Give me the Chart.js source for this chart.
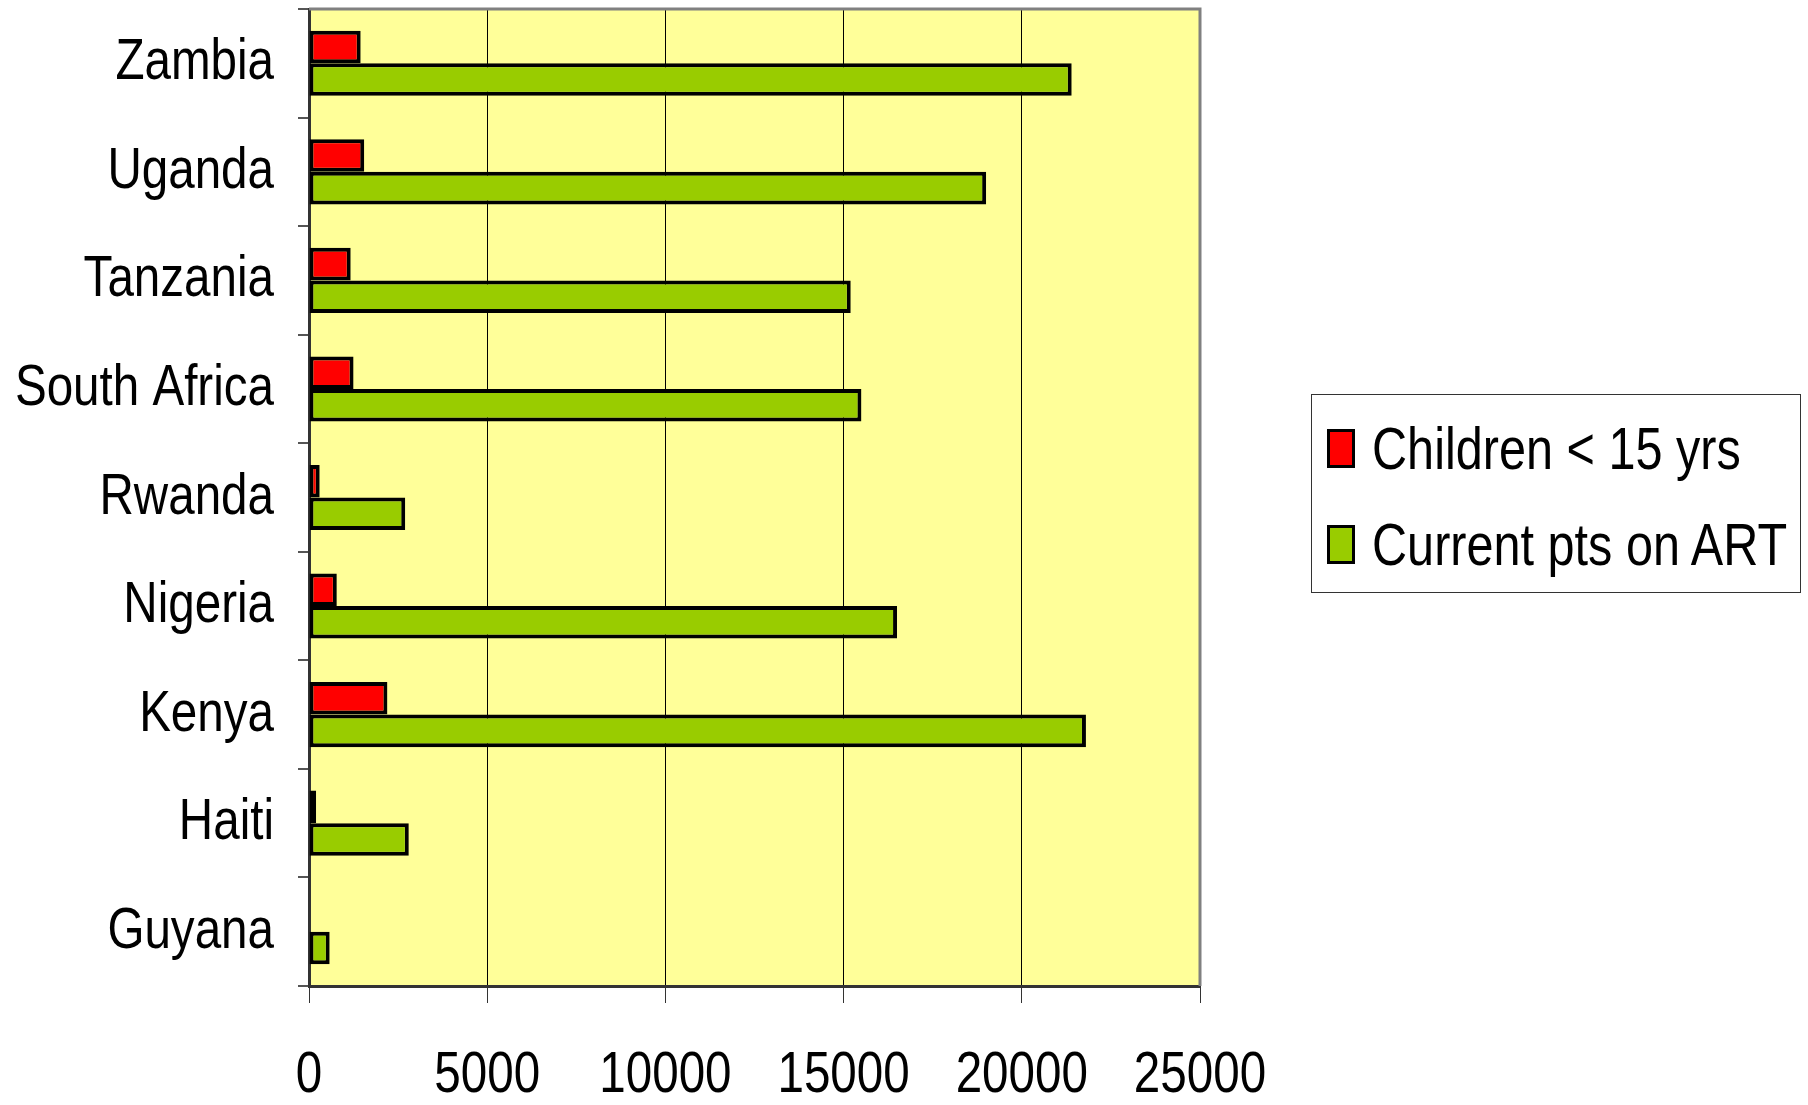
<!DOCTYPE html>
<html>
<head>
<meta charset="utf-8">
<script src="https://cdn.jsdelivr.net/npm/chart.js"></script>
<style>
    body { margin: 0; background: #fff; }
    .wrap { position: relative; width: 1808px; height: 1105px; }
    .legend {
        position: absolute; left: 1311px; top: 394px; width: 488px; height: 197px;
        border: 1px solid #333; background: #fff;
        font-family: 'Liberation Sans', Arial, sans-serif; font-size: 60px; color: #000;
    }
    .legend__item { position: absolute; left: 15px; display: flex; align-items: center; white-space: nowrap; line-height: 1.15; }
    .legend__box { width: 22px; height: 33px; border: 3px solid #000; margin-right: 17px; flex: none; }
    .legend__text { display: inline-block; transform: scaleX(0.81); transform-origin: left center; }
</style>
</head>
<body>
<div class="wrap">
    <canvas id="chart" width="1808" height="1105"></canvas>
    <div class="legend" id="legend"></div>
</div>
<script>
const countries = ['Zambia', 'Uganda', 'Tanzania', 'South Africa', 'Rwanda', 'Nigeria', 'Kenya', 'Haiti', 'Guyana'];
const children = [1450, 1550, 1170, 1250, 300, 780, 2200, 200, 0];
const currentArt = [21400, 19000, 15200, 15500, 2700, 16500, 21800, 2800, 580];
const xMax = 25000;
const xStep = 5000;

const seriesNames = ['Children < 15 yrs', 'Current pts on ART'];
const seriesColors = ['#ff0000', '#99cc00'];

const fontFamily = "'Liberation Sans', Arial, sans-serif";
// no narrow font installed, so squeeze the axis labels
const narrowX = 0.82;
const narrowY = 0.78;

/* plot background + gray frame */
const plotFrame = {
    id: 'plotFrame',
    beforeDraw(chart) {
        const { ctx, chartArea: a } = chart;
        ctx.save();
        ctx.fillStyle = '#ffff99';
        ctx.fillRect(a.left, a.top, a.right - a.left, a.bottom - a.top);
        ctx.restore();
        ctx._origFill = ctx.fillText;
    },
    beforeDraw2: null,
    afterDraw(chart) {
        const { ctx, chartArea: a } = chart;
        if (ctx._origFill) ctx.fillText = ctx._origFill;
        ctx.save();
        ctx.strokeStyle = '#808080';
        ctx.lineWidth = 3;
        ctx.beginPath();
        ctx.moveTo(a.left, a.top);
        ctx.lineTo(a.right, a.top);
        ctx.lineTo(a.right, a.bottom);
        ctx.stroke();
        ctx.restore();
    }
};

function squeeze(ctx, k) {
    const fill = ctx._origFill || ctx.fillText;
    ctx.fillText = function (text, x, y) {
        this.save();
        this.translate(x, y);
        this.scale(k, 1);
        fill.call(this, text, 0, 0);
        this.restore();
    };
}

const chart = document.querySelector('#chart').getContext('2d');
const myChart = new Chart(chart, {
    type: 'bar',
    data: {
        labels: countries,
        datasets: [
            {
                label: seriesNames[0],
                data: children,
                backgroundColor: seriesColors[0],
                borderColor: '#000',
                borderWidth: 4,
                borderSkipped: false,
            },
            {
                label: seriesNames[1],
                data: currentArt,
                backgroundColor: seriesColors[1],
                borderColor: '#000',
                borderWidth: 4,
                borderSkipped: false,
            }
        ]
    },
    options: {
        indexAxis: 'y',
        responsive: false,
        animation: false,
        datasets: { bar: { categoryPercentage: 0.6, barPercentage: 1 } },
        layout: { padding: { top: 9, right: 608, left: 0, bottom: 0 } },
        plugins: {
            legend: { display: false },
            tooltip: { enabled: false },
        },
        scales: {
            x: {
                min: 0,
                max: xMax,
                afterFit: (scale) => {
                    scale.height = 119;
                    scale.paddingLeft = 0;
                    scale.paddingRight = 0;
                },
                grid: { color: '#000', lineWidth: 1, tickLength: 17, tickColor: '#333' },
                border: { color: '#333', width: 3 },
                ticks: {
                    stepSize: xStep,
                    autoSkip: false,
                    color: '#000',
                    padding: 38,
                    maxRotation: 0,
                    callback: (v) => String(v),
                    font: { family: fontFamily, size: 58 },
                },
            },
            y: {
                afterFit: (scale) => {
                    scale.width = 309;
                    scale.paddingTop = 0;
                    scale.paddingBottom = 0;
                },
                grid: { drawOnChartArea: false, offset: true, tickLength: 11, color: '#555', lineWidth: 2 },
                border: { color: '#333', width: 3 },
                ticks: {
                    color: '#000',
                    padding: 24,
                    font: { family: fontFamily, size: 58 },
                },
            },
        },
    },
    plugins: [plotFrame, {
        id: 'squeezeLabels',
        beforeDraw(chart) { squeeze(chart.ctx, narrowX); },
        afterDraw(chart) {},
    }],
});

// y and x axes use different squeeze: hook each scale's draw
myChart.scales.x.draw = ((orig) => function (area) {
    squeeze(this.ctx, narrowX);
    orig.call(this, area);
})(myChart.scales.x.draw);
myChart.scales.y.draw = ((orig) => function (area) {
    squeeze(this.ctx, narrowY);
    orig.call(this, area);
})(myChart.scales.y.draw);
myChart.draw();

/* legend */
const legend = document.getElementById('legend');
const legendTops = [19, 115];
seriesNames.forEach((name, i) => {
    const item = document.createElement('div');
    item.className = 'legend__item';
    item.style.top = legendTops[i] + 'px';
    item.innerHTML = `<span class="legend__box" style="background:${seriesColors[i]}"></span><span class="legend__text">${name.replace('<', '&lt;')}</span>`;
    legend.appendChild(item);
});
</script>
</body>
</html>
